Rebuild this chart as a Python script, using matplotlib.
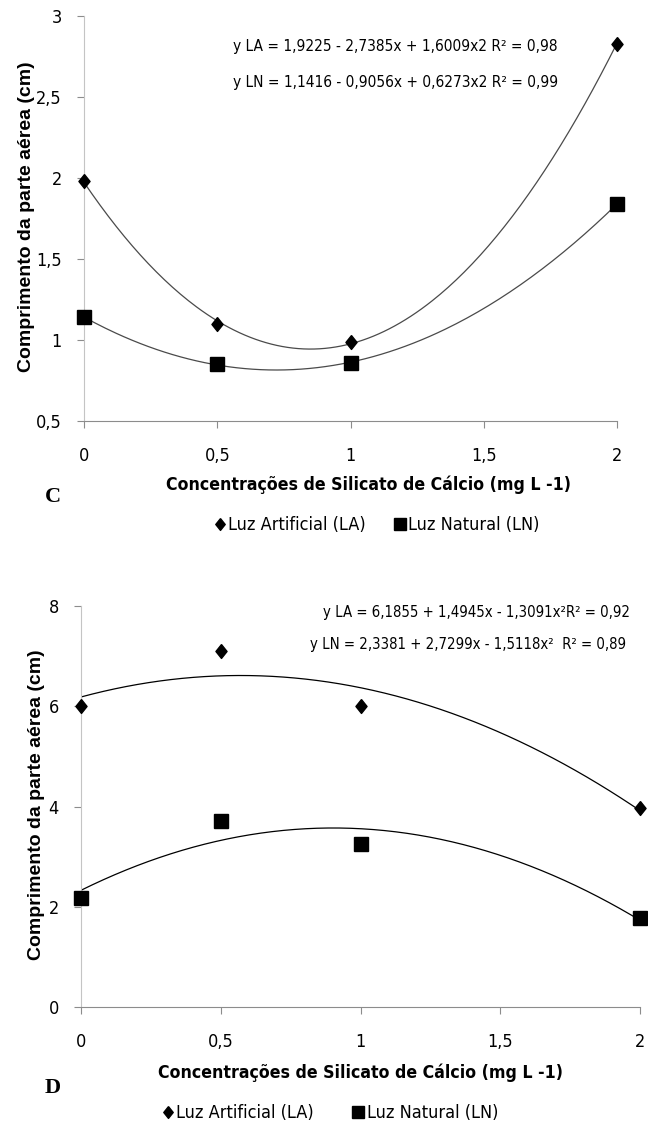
import numpy as np
import matplotlib.pyplot as plt

# Data
conc = [0, 0.5, 1, 2]

# panel C
c_la = [1.98, 1.10, 0.99, 2.83]
c_ln = [1.14, 0.85, 0.86, 1.84]
c_eq_la = "y LA = 1,9225 - 2,7385x + 1,6009x2 R² = 0,98"
c_eq_ln = "y LN = 1,1416 - 0,9056x + 0,6273x2 R² = 0,99"
c_yticks = [0.5, 1, 1.5, 2, 2.5, 3]
c_yticklabels = ["0,5", "1", "1,5", "2", "2,5", "3"]

# panel D
d_la = [6.0, 7.1, 6.0, 3.98]
d_ln = [2.18, 3.72, 3.26, 1.78]
d_eq_la = "y LA = 6,1855 + 1,4945x - 1,3091x²R² = 0,92"
d_eq_ln = "y LN = 2,3381 + 2,7299x - 1,5118x²  R² = 0,89"
d_yticks = [0, 2, 4, 6, 8]
d_yticklabels = ["0", "2", "4", "6", "8"]

xticks = [0, 0.5, 1, 1.5, 2]
xticklabels = ["0", "0,5", "1", "1,5", "2"]

ylabel = "Comprimento da parte aérea (cm)"
xlabel = "Concentrações de Silicato de Cálcio (mg L -1)"
leg_la = "Luz Artificial (LA)"
leg_ln = "Luz Natural (LN)"

W, H = 648, 1126
NARROW = dict(family="DejaVu Sans", stretch="condensed")
DIAMOND = [(0, 1), (0.8, 0), (0, -1), (-0.8, 0), (0, 1)]

fig = plt.figure(figsize=(W / 100, H / 100), dpi=100)


def px(x, y):
    return x / W, 1 - y / H


def panel(rect, la, ln, ylim, yticks, yticklabels, line_color):
    ax = fig.add_axes(rect)
    xs = np.linspace(0, 2, 200)
    # quadratic trend lines fitted to the points
    ax.plot(xs, np.polyval(np.polyfit(conc, la, 2), xs), color=line_color, lw=0.9)
    ax.plot(xs, np.polyval(np.polyfit(conc, ln, 2), xs), color=line_color, lw=0.9)
    h1, = ax.plot(conc, la, marker=DIAMOND, color="black", markersize=10, ls="none", clip_on=False, zorder=5)
    h2, = ax.plot(conc, ln, "s", color="black", markersize=9.5, ls="none", clip_on=False, zorder=5)
    ax.set_xlim(0, 2)
    ax.set_ylim(*ylim)
    ax.set_xticks(xticks)
    ax.set_xticklabels(xticklabels, fontsize=13, **NARROW)
    ax.set_yticks(yticks)
    ax.set_yticklabels(yticklabels, fontsize=13, **NARROW)
    for s in ["top", "right"]:
        ax.spines[s].set_visible(False)
    ax.spines["left"].set_color("#c4c4c4")
    ax.spines["bottom"].set_color("#8c8c8c")
    ax.tick_params(axis="y", length=5, color="#8c8c8c", pad=11)
    ax.tick_params(axis="x", length=5, color="#8c8c8c", pad=14)
    return ax, h1, h2


def legend(h1, h2, x, y, gap):
    fig.legend([h1, h2], [leg_la, leg_ln], loc="center", bbox_to_anchor=px(x, y), ncol=2, frameon=False,
               prop={"family": "DejaVu Sans", "stretch": "condensed", "size": 13},
               handlelength=0.6, handletextpad=0.15, columnspacing=gap, markerscale=0.85)


# Panel C
ax1, h1, h2 = panel([84 / W, 1 - 421 / H, 533 / W, 405 / H], c_la, c_ln,
                    (0.5, 3), c_yticks, c_yticklabels, "#4a4a4a")
fig.text(*px(233, 47), c_eq_la, fontsize=11.1, va="center", ha="left", **NARROW)
fig.text(*px(233, 83), c_eq_ln, fontsize=11.1, va="center", ha="left", **NARROW)
fig.text(*px(27, 217), ylabel, rotation=90, fontsize=14, fontweight="bold",
         family=["Liberation Sans", "DejaVu Sans"], ha="center", va="center")
fig.text(*px(368, 485), xlabel, fontsize=12.7, fontweight="bold", ha="center", va="center", **NARROW)
fig.text(*px(45, 497), "C", fontsize=16, fontweight="bold", family=["Liberation Serif", "DejaVu Serif"],
         ha="left", va="center")
legend(h1, h2, 377, 525, 1.6)

# Panel D
ax2, g1, g2 = panel([81 / W, 1 - 1007 / H, 559 / W, 401 / H], d_la, d_ln,
                    (0, 8), d_yticks, d_yticklabels, "black")
fig.text(*px(630, 612), d_eq_la, fontsize=10.7, va="center", ha="right", **NARROW)
fig.text(*px(626, 645), d_eq_ln, fontsize=10.7, va="center", ha="right", **NARROW)
fig.text(*px(37, 805), ylabel, rotation=90, fontsize=14, fontweight="bold",
         family=["Liberation Sans", "DejaVu Sans"], ha="center", va="center")
fig.text(*px(360, 1073), xlabel, fontsize=12.7, fontweight="bold", ha="center", va="center", **NARROW)
fig.text(*px(45, 1088), "D", fontsize=16, fontweight="bold", family=["Liberation Serif", "DejaVu Serif"],
         ha="left", va="center")
legend(g1, g2, 330, 1113, 2.2)

fig.savefig("out.png", dpi=100)
